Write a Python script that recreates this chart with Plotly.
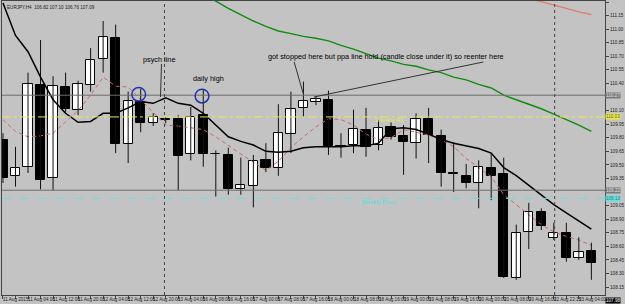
import plotly.graph_objects as go

# ---------------- data (EURJPY, H4) ----------------
opens  = [109.78,109.38,109.48,110.38,109.36,110.36,110.11,110.38,110.67,110.90,
          109.73,110.20,109.96,110.005,110.01,109.62,110.05,109.625,109.61,109.23,
          109.27,109.55,109.46,109.84,110.13,110.20,110.22,109.705,109.72,109.89,
          109.72,109.92,109.82,109.74,110.01,109.82,109.405,109.38,109.30,109.47,
          109.40,108.25,108.76,108.98,108.69,108.75,108.47,108.55]
highs  = [109.85,109.70,110.52,110.88,110.48,110.52,110.43,110.79,111.09,111.05,
          110.31,110.34,110.07,110.03,110.05,110.14,110.33,109.66,109.69,109.58,
          109.61,109.74,110.17,110.31,110.42,110.26,110.32,109.85,110.11,110.13,
          110.00,109.97,109.94,110.07,110.13,109.89,109.75,109.51,109.55,109.63,
          109.58,108.84,109.08,109.02,108.86,108.86,108.70,108.64]
lows   = [109.30,109.26,109.41,109.23,109.22,110.08,110.05,110.31,110.52,109.63,
          109.52,109.86,109.93,109.96,109.22,109.55,109.48,109.15,109.17,109.17,
          109.03,109.42,109.38,109.63,110.03,110.16,109.61,109.58,109.63,109.59,
          109.66,109.78,109.39,109.57,109.52,109.26,109.20,109.24,109.02,109.11,
          108.25,108.23,108.57,108.78,108.67,108.43,108.45,108.23]
closes = [109.36,109.47,110.39,109.33,110.37,110.12,110.39,110.66,110.91,109.73,
          110.21,109.96,110.03,109.995,109.60,110.03,109.62,109.615,109.23,109.28,
          109.54,109.47,109.85,110.12,110.21,110.23,109.71,109.695,109.90,109.70,
          109.91,109.81,109.75,110.01,109.83,109.41,109.395,109.30,109.48,109.38,
          108.26,108.75,108.98,108.82,108.75,108.47,108.54,108.42]

ma_black = [111.29,110.93,110.75,110.47,110.22,110.07,109.97,109.98,110.07,110.07,
            110.13,110.20,110.18,110.24,110.18,110.16,110.07,109.94,109.81,109.76,
            109.72,109.65,109.64,109.65,109.69,109.70,109.70,109.70,109.71,109.71,
            109.74,109.90,109.91,109.89,109.84,109.78,109.74,109.71,109.68,109.63,
            109.47,109.38,109.27,109.16,109.06,108.97,108.88,108.79]
ma_red = [110.00,109.87,109.81,109.82,109.85,109.97,110.10,110.27,110.47,110.37,
          110.36,110.22,110.08,109.94,109.93,109.91,109.89,109.81,109.71,109.62,
          109.53,109.44,109.54,109.69,109.81,109.92,110.01,110.00,109.94,109.84,
          109.78,109.80,109.89,109.86,109.83,109.78,109.70,109.57,109.47,109.37,
          109.17,109.06,108.96,108.84,108.76,108.71,108.67,108.61]
ma_green = [None]*16 + [111.40,111.31,111.23,111.16,111.09,111.03,110.98,110.95,110.92,
            110.90,110.87,110.82,110.78,110.73,110.68,110.65,110.61,110.59,110.55,
            110.52,110.47,110.44,110.39,110.35,110.27,110.22,110.17,110.12,110.06,
            110.00,109.94,109.87]
ma_salmon = [None]*42 + [111.34,111.305,111.27,111.23,111.19,111.16]

level_gray_hi = 110.27
level_r1 = 110.03
level_gray_lo = 109.22
level_pivot = 109.13
current_price = 107.98

separators = [12.9, 44.07]

x_label_idx = list(range(0, 48, 2))
x_labels = ["11 Aug 2015","11 Aug 04:00","11 Aug 12:00","11 Aug 20:00","12 Aug 04:00",
            "12 Aug 12:00","12 Aug 20:00","13 Aug 04:00","16 Aug 08:00","16 Aug 16:00",
            "17 Aug 00:00","17 Aug 08:00","17 Aug 16:00","18 Aug 00:00","18 Aug 08:00",
            "18 Aug 16:00","19 Aug 00:00","19 Aug 08:00","19 Aug 16:00","20 Aug 00:00",
            "20 Aug 08:00","20 Aug 16:00","22 Aug 22:15","23 Aug 04:00"]
y_ticks = [108.15,108.30,108.45,108.60,108.75,108.90,109.05,109.20,109.35,109.50,
           109.65,109.80,109.95,110.10,110.25,110.40,110.55,110.70,110.85,111.00,
           111.15,111.30]
# tick labels hidden behind the level boxes on the price scale
hidden_ticks = [109.20, 110.25]
title_text = "EURJPY,H4  106.82 107.10 106.76 107.09"

# ---------------- figure ----------------
BG = "#c3c3c3"
n = len(opens)
xs = list(range(n))

fig = go.Figure()

fig.add_trace(go.Scatter(x=xs, y=ma_red, mode="lines",
                         line=dict(color="#c86a6a", width=1, dash="4px,3px"), hoverinfo="skip"))
fig.add_trace(go.Scatter(x=xs, y=ma_green, mode="lines",
                         line=dict(color="#138a13", width=1.4), hoverinfo="skip"))
fig.add_trace(go.Scatter(x=xs, y=ma_salmon, mode="lines",
                         line=dict(color="#e07a72", width=1.3), hoverinfo="skip"))

wx, wy = [], []
for i in xs:
    wx += [i, i, None]
    wy += [lows[i], highs[i], None]
fig.add_trace(go.Scatter(x=wx, y=wy, mode="lines", line=dict(color="#111", width=1),
                         hoverinfo="skip"))

base = [min(o, c) for o, c in zip(opens, closes)]
hgt = [abs(c - o) for o, c in zip(opens, closes)]
cols = ["white" if c > o else "black" for o, c in zip(opens, closes)]
fig.add_trace(go.Bar(x=xs, y=hgt, base=base, width=0.74, marker=dict(color=cols,
                     line=dict(color="black", width=1)), hoverinfo="skip"))

fig.add_trace(go.Scatter(x=xs, y=ma_black, mode="lines",
                         line=dict(color="black", width=1.5), hoverinfo="skip"))

XD0, XD1 = 0.0032, 0.9776
shapes = []
shapes.append(dict(type="line", xref="paper", x0=XD0, x1=XD1, yref="y",
                   y0=level_gray_hi, y1=level_gray_hi, line=dict(color="#6e6e6e", width=1)))
shapes.append(dict(type="line", xref="paper", x0=XD0, x1=XD1, yref="y",
                   y0=level_r1, y1=level_r1, line=dict(color="#e8e860", width=1, dash="dashdot")))
shapes.append(dict(type="line", xref="paper", x0=XD0, x1=XD1, yref="y",
                   y0=level_gray_lo, y1=level_gray_lo, line=dict(color="#6e6e6e", width=1)))
shapes.append(dict(type="line", xref="paper", x0=XD0, x1=XD1, yref="y",
                   y0=level_pivot, y1=level_pivot, line=dict(color="#6fdede", width=1, dash="dash")))
for s in separators:
    shapes.append(dict(type="line", xref="x", x0=s, x1=s, yref="paper", y0=0.0296, y1=0.9967,
                       line=dict(color="#444", width=1, dash="dot")))
for cx, cy in [(10.84, 110.28), (15.9, 110.26)]:
    shapes.append(dict(type="circle", xref="x", yref="y", x0=cx - 0.55, x1=cx + 0.55,
                       y0=cy - 0.075, y1=cy + 0.075, line=dict(color="#2233aa", width=1.5)))
for (xa, ya, xb, yb) in [(12.66, 110.615, 12.58, 110.25),
                         (23.26, 110.637, 23.97, 110.294),
                         (24.84, 110.25, 38.37, 110.637)]:
    shapes.append(dict(type="line", xref="x", yref="y", x0=xa, y0=ya, x1=xb, y1=yb,
                       line=dict(color="#333", width=1)))

ann = []
tf = dict(family="Liberation Sans", size=7.3, color="black")
ann.append(dict(x=12.5, y=110.66, xref="x", yref="y", text="psych line", showarrow=False, font=tf))
ann.append(dict(x=16.4, y=110.45, xref="x", yref="y", text="daily high", showarrow=False, font=tf))
ann.append(dict(x=30.6, y=110.70, xref="x", yref="y",
                text="got stopped here but ppa line hold (candle close under it) so reenter here",
                showarrow=False, font=tf))
ann.append(dict(x=30.9, y=level_r1 - 0.035, xref="x", yref="y", text="Weekly R1", showarrow=False,
                xanchor="center", font=dict(family="Liberation Sans", size=6, color="#e8e860")))
ann.append(dict(x=30.0, y=level_pivot - 0.04, xref="x", yref="y", text="Weekly Pivot", showarrow=False,
                xanchor="center", font=dict(family="Liberation Sans", size=6, color="#55dddd")))
ann.append(dict(x=0.008, y=0.99, xref="paper", yref="paper", text=title_text, showarrow=False,
                xanchor="left", yanchor="top", font=dict(family="Liberation Sans", size=4.6, color="#222")))
for i, t in zip(x_label_idx, x_labels):
    ann.append(dict(x=i, y=0.014, xref="x", yref="paper", text=t, showarrow=False,
                    xanchor="left", xshift=-2, yanchor="middle",
                    font=dict(family="Liberation Sans", size=4.6, color="#222")))
for lv, bg, fc in [(level_gray_hi, "#7a7a7a", "#e0e0e0"), (level_r1, "#ecec40", "#555"),
                   (level_gray_lo, "#7a7a7a", "#e0e0e0"), (level_pivot, "#66e0e0", "#3a7a7a")]:
    ann.append(dict(x=XD1, y=lv, xref="paper", yref="y", text=f"{lv:.2f}", showarrow=False,
                    xanchor="left", bgcolor=bg, borderpad=0,
                    font=dict(family="Liberation Sans", size=4.6, color=fc)))
ann.append(dict(x=XD1, y=0.0, xref="paper", yref="paper", text=f"{current_price:.2f}",
                showarrow=False, xanchor="left", yanchor="bottom", bgcolor="#000000", borderpad=0,
                font=dict(family="Liberation Sans", size=4.6, color="#ffffff")))

fig.update_layout(
    width=625, height=304, margin=dict(l=0, r=0, t=0, b=0),
    paper_bgcolor=BG, plot_bgcolor=BG, showlegend=False,
    bargap=0, shapes=shapes, annotations=ann,
    xaxis=dict(domain=[XD0, XD1], range=[-0.08, 48.1], showgrid=False, zeroline=False,
               showticklabels=False, ticks="outside", tickvals=xs, ticklen=3, tickcolor="#444",
               showline=True, linecolor="#444", mirror=True, fixedrange=True),
    yaxis=dict(domain=[0.0296, 0.9967], range=[108.062, 111.311], side="right",
               showgrid=False, zeroline=False, tickvals=y_ticks,
               ticktext=["" if v in hidden_ticks else f"{v:.2f}" for v in y_ticks],
               ticks="outside", ticklen=3,
               tickcolor="#444", tickfont=dict(family="Liberation Sans", size=4.6, color="#222"),
               showline=True, linecolor="#444", mirror=True, fixedrange=True),
)

fig.write_html("out.html")
